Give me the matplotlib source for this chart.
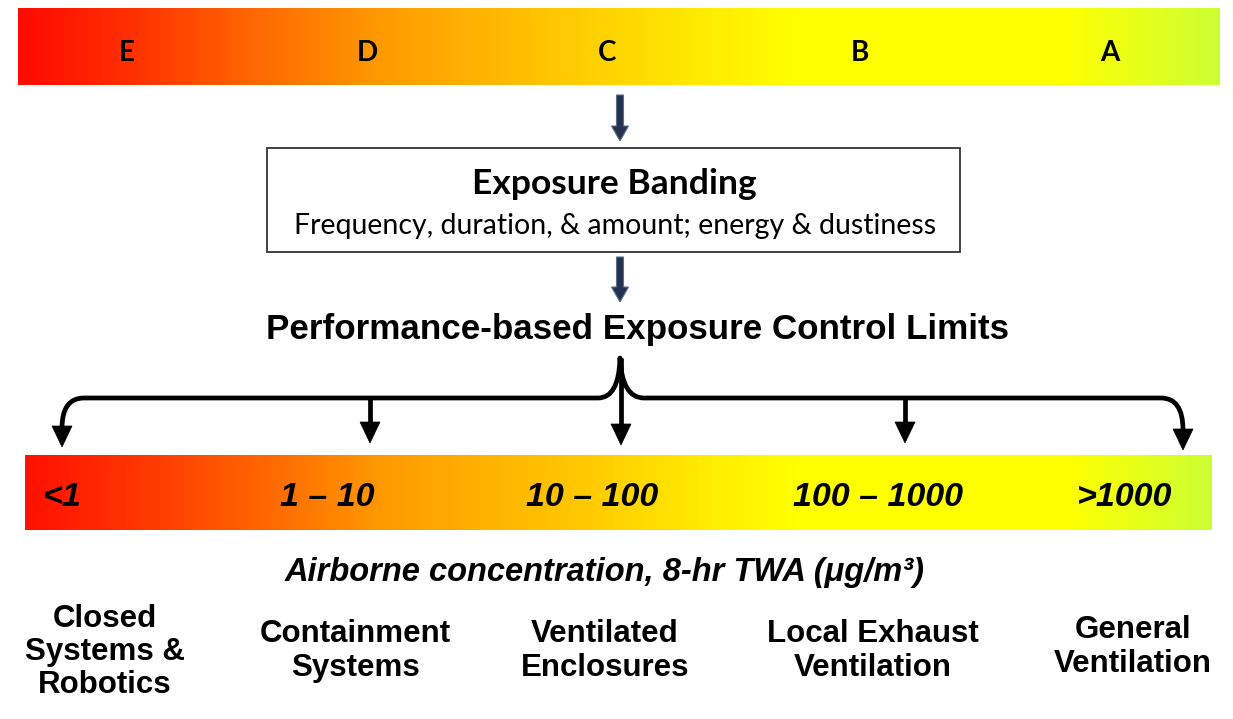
import matplotlib
matplotlib.use("Agg")
import matplotlib.pyplot as plt
import numpy as np
from matplotlib.colors import LinearSegmentedColormap
from matplotlib.patches import Rectangle, Polygon, FancyArrow
from matplotlib.path import Path
from matplotlib.patches import PathPatch

# ---- data ----
bands = ["E", "D", "C", "B", "A"]
band_x = [127, 367, 607, 860, 1110]
ranges = ["<1", "1 – 10", "10 – 100", "100 – 1000", ">1000"]
range_x = [62, 327, 592, 878, 1125]
controls = ["Closed\nSystems &\nRobotics", "Containment\nSystems", "Ventilated\nEnclosures",
            "Local Exhaust\nVentilation", "General\nVentilation"]
control_x = [105, 355, 605, 873, 1133]
control_y = [652, 651, 651, 651, 647]
arrow_x = [62, 370, 621, 905, 1183]

W, H = 1233, 719
fig = plt.figure(figsize=(W / 100, H / 100), dpi=100)
ax = fig.add_axes([0, 0, 1, 1])
ax.set_xlim(0, W)
ax.set_ylim(H, 0)
ax.axis("off")

top_cmap = LinearSegmentedColormap.from_list("top", [
    (0.0, "#ff0a00"), (0.08, "#ff2a00"), (0.2, "#ff6a00"), (0.3, "#ff9a00"),
    (0.45, "#ffc800"), (0.58, "#ffee00"), (0.65, "#ffff00"), (0.87, "#ffff00"),
    (1.0, "#ccff33")])
grad = np.linspace(0, 1, 512).reshape(1, -1)
ax.imshow(grad, cmap=top_cmap, extent=[18, 1220, 85, 8], aspect="auto", zorder=1)
for b, x in zip(bands, band_x):
    ax.text(x, 53, b, ha="center", va="center", fontsize=20, fontweight="bold",
            family="Lato", color="black", zorder=3)

bot_cmap = LinearSegmentedColormap.from_list("bot", [
    (0.0, "#ff1000"), (0.1, "#ff3800"), (0.22, "#ff7000"), (0.3, "#ff9a00"),
    (0.48, "#ffcc00"), (0.58, "#ffee00"), (0.65, "#ffff00"), (0.88, "#ffff00"),
    (1.0, "#ccff33")])
ax.imshow(grad, cmap=bot_cmap, extent=[25, 1212, 530, 455], aspect="auto", zorder=1)
for r, x in zip(ranges, range_x):
    ax.text(x, 497, r, ha="center", va="center", fontsize=24.5, fontweight="bold",
            style="italic", family="Liberation Sans", color="black", zorder=3)

# small navy arrows
navy = "#22324f"
for y0, y1 in [(95, 141), (257, 302)]:
    ax.add_patch(FancyArrow(620, y0, 0, y1 - y0, width=7, head_width=17,
                            head_length=15, length_includes_head=True,
                            color=navy, ec="#5a6e8c", lw=0.8, zorder=3))

# box
ax.add_patch(Rectangle((267, 148), 693, 104, fill=False, ec="#333333", lw=1.3, zorder=3))
ax.text(614, 184, "Exposure Banding", ha="center", va="center", fontsize=25.5,
        fontweight="bold", family="Lato", color="black")
ax.text(615, 226, "Frequency, duration, & amount; energy & dustiness", ha="center",
        va="center", fontsize=20.5, family="Lato", color="black")

ax.text(637, 330, "Performance-based Exposure Control Limits", ha="center", va="center",
        fontsize=25.2, fontweight="bold", family="Liberation Sans", color="black")

# brace
lw = 3.4
yl = 398
verts = [(arrow_x[0], 428), (arrow_x[0], yl), (arrow_x[0] + 22, yl),
         (598, yl), (619, yl), (620, 358),
         (622, yl), (644, yl),
         (arrow_x[4] - 22, yl), (arrow_x[4], yl), (arrow_x[4], 430)]
codes = [Path.MOVETO, Path.CURVE3, Path.CURVE3,
         Path.LINETO, Path.CURVE3, Path.CURVE3,
         Path.CURVE3, Path.CURVE3,
         Path.LINETO, Path.CURVE3, Path.CURVE3]
ax.add_patch(PathPatch(Path(verts, codes), fill=False, ec="black", lw=lw,
                       capstyle="butt", joinstyle="round", zorder=3))
tips = [447, 443, 445, 443, 450]
for i, (x, t) in enumerate(zip(arrow_x, tips)):
    if i in (1, 2, 3):
        ax.plot([x, x], [358 if i == 2 else yl, t - 15], color="black", lw=lw,
                solid_capstyle="butt", zorder=3)
    ax.add_patch(Polygon([(x - 10, t - 21), (x + 10, t - 21), (x, t)], closed=True,
                         fc="black", ec="black", lw=0.5, zorder=4))

ax.text(605, 572, "Airborne concentration, 8-hr TWA (μg/m³)", ha="center", va="center",
        fontsize=23.5, fontweight="bold", style="italic", family="Liberation Sans",
        color="black")

for c, x, y in zip(controls, control_x, control_y):
    ax.text(x, y, c, ha="center", va="center", fontsize=22.5, fontweight="bold",
            family="Liberation Sans", color="black", linespacing=1.15)

fig.savefig("out.png", dpi=100)
